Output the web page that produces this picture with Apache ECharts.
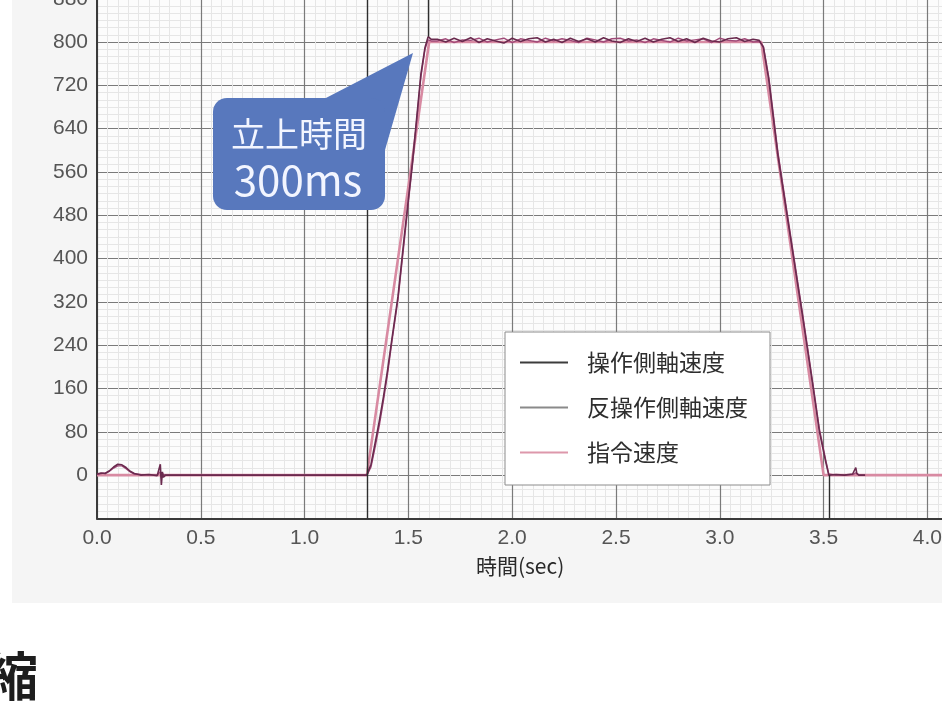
<!DOCTYPE html>
<html>
<head>
<meta charset="utf-8">
<script src="https://cdn.jsdelivr.net/npm/echarts@6/dist/echarts.min.js"></script>
<style>
  html, body { margin: 0; padding: 0; background: #ffffff; overflow: hidden; width: 942px; height: 702px; }
  #chart { position: absolute; left: 0; top: -60px; width: 1040px; height: 762px; }
</style>
</head>
<body>
<div id="chart"></div>
<script>
// Sample times (sec) of the measured drive-side trace
const timeDrive = [
  0, 0.02, 0.04, 0.06, 0.08, 0.1, 0.12, 0.14, 0.16, 0.18, 0.21, 0.25, 0.29, 0.305, 0.31, 0.315, 0.32, 0.33,
  0.4, 0.6, 0.8, 1.0, 1.2,
  1.3, 1.32, 1.34, 1.36, 1.38, 1.4, 1.42, 1.45, 1.48, 1.5, 1.52, 1.54, 1.56, 1.58, 1.595, 1.61,
  1.64, 1.68, 1.72, 1.76, 1.80, 1.84, 1.88, 1.92, 1.96, 2.00, 2.04, 2.08, 2.12, 2.16, 2.20, 2.24, 2.28, 2.32, 2.36, 2.40,
  2.44, 2.48, 2.52, 2.56, 2.60, 2.64, 2.68, 2.72, 2.76, 2.80, 2.84, 2.88, 2.92, 2.96, 3.00, 3.04, 3.08, 3.12, 3.16,
  3.19, 3.21, 3.236, 3.28, 3.34, 3.4, 3.45, 3.48, 3.51, 3.525,
  3.56, 3.6, 3.64, 3.655, 3.66, 3.67, 3.7
];
// 操作側軸速度
const speedDrive = [
  2, 4, 3, 8, 15, 20, 19, 14, 7, 3, 0, 1, -1, 20, -18, 6, -4, 0,
  0, 0, 0, 0, 0,
  0, 20, 60, 100, 145, 195, 250, 330, 440, 510, 580, 660, 740, 790, 810, 805,
  805, 800, 807, 801, 808, 799, 806, 802, 798, 807, 801, 806, 808, 800, 805, 799, 807, 801, 806, 800,
  808, 802, 799, 806, 801, 807, 800, 805, 808, 801, 806, 799, 807, 802, 800, 806, 808, 801, 805,
  803, 790, 730, 590, 440, 290, 160, 80, 25, 0,
  1, 0, 2, 14, 3, 0, 0
];
// 反操作側軸速度 (same sample times)
const speedOpposite = [
  1, 3, 4, 7, 13, 17, 17, 12, 6, 2, 1, 0, 0, 6, -6, 2, -1, 0,
  0, 0, 0, 0, 0,
  0, 15, 52, 92, 138, 188, 245, 325, 432, 505, 575, 655, 735, 787, 804, 802,
  802, 806, 799, 804, 803, 807, 800, 804, 807, 799, 806, 803, 800, 807, 802, 806, 803, 799, 807, 804,
  800, 806, 807, 802, 804, 799, 806, 803, 800, 807, 802, 804, 806, 799, 807, 803, 802, 806, 800,
  801, 792, 735, 596, 445, 295, 165, 85, 28, 2,
  0, 0, 1, 4, 1, 0, 0
];
// 指令速度 (trapezoidal command profile)
const timeCommand = [0, 1.3, 1.6, 3.2, 3.5, 4.5];
const speedCommand = [0, 0, 800, 800, 0, 0];

// Vertical cursor segments on the drive trace: [time, from, to]
const cursorLines = [[1.3, -80, 960], [1.595, 810, 960], [3.525, 0, -80]];

const seriesNames = ['操作側軸速度', '反操作側軸速度', '指令速度'];
const xName = '時間(sec)';
const calloutLines = ['立上時間', '300ms'];

const zip = (xs, ys) => xs.slice(0, Math.min(xs.length, ys.length)).map((x, i) => [x, ys[i]]);

const chart = echarts.init(document.getElementById('chart'), null, { renderer: 'canvas', width: 1040, height: 762 });

// The canvas is shifted up by this many pixels so the top rows of the axis run off the page
const OY = 60;

const cjk = '"Noto Sans CJK JP", "Noto Sans", sans-serif';
const latin = '"Liberation Sans", Arial, sans-serif';

const hiddenParts = {
  axisLine: { show: false },
  axisTick: { show: false },
  axisLabel: { show: false },
  splitLine: { show: false }
};

const calloutFill = '#5878bd';

const option = {
  backgroundColor: '#ffffff',
  animation: false,
  grid: {
    left: 97, top: 15.4, width: 934.2, height: 563,
    containLabel: false,
    outerBoundsMode: 'none',
    show: true, backgroundColor: '#fcfcfc', borderWidth: 0
  },
  legend: {
    orient: 'vertical',
    left: 505, top: 332 + OY,
    padding: [19, 22, 21, 15],
    itemGap: 22,
    itemWidth: 48, itemHeight: 2,
    icon: 'rect',
    backgroundColor: '#ffffff',
    borderColor: '#8c8c8c', borderWidth: 1,
    textStyle: { fontSize: 23, color: '#2e2e2e', fontFamily: cjk, padding: [0, 0, 0, 14] },
    data: seriesNames
  },
  xAxis: [
    {
      type: 'value', min: 0, max: 4.5, interval: 0.5,
      axisLine: { show: true, onZero: false, lineStyle: { color: '#3a3a3a', width: 2 } },
      axisTick: { show: false },
      axisLabel: {
        color: '#555', fontSize: 21, fontFamily: latin, margin: 9,
        formatter: v => v.toFixed(1)
      },
      splitLine: { show: true, lineStyle: { color: '#7a7a7a', width: 1.2 } },
      minorTick: { show: false, splitNumber: 5 },
      minorSplitLine: { show: true, lineStyle: { color: '#b2b2b2', width: 1 } },
      name: xName, nameLocation: 'middle', nameGap: 37,
      nameTextStyle: { fontSize: 21, color: '#2a2a2a', fontFamily: cjk, padding: [0, 88, 0, 0] }
    },
    Object.assign({
      type: 'value', min: 0, max: 4.5, interval: 0.5,
      minorTick: { show: false, splitNumber: 10 },
      minorSplitLine: { show: true, lineStyle: { color: '#e6e6e6', width: 1 } }
    }, hiddenParts)
  ],
  yAxis: [
    {
      type: 'value', min: -80, max: 960, interval: 80,
      axisLine: { show: true, onZero: false, lineStyle: { color: '#3a3a3a', width: 2 } },
      axisTick: { show: false },
      axisLabel: {
        color: '#555', fontSize: 21, fontFamily: latin, margin: 9,
        formatter: v => (v < 0 ? '' : String(v))
      },
      splitLine: { show: true, lineStyle: { color: '#7a7a7a', width: 1.2 } },
      minorTick: { show: false, splitNumber: 3 },
      minorSplitLine: { show: true, lineStyle: { color: '#b2b2b2', width: 1 } }
    },
    Object.assign({
      type: 'value', min: -80, max: 960, interval: 80,
      minorTick: { show: false, splitNumber: 6 },
      minorSplitLine: { show: true, lineStyle: { color: '#e6e6e6', width: 1 } }
    }, hiddenParts)
  ],
  series: [
    {
      name: seriesNames[2], type: 'line', showSymbol: false, z: 2,
      data: zip(timeCommand, speedCommand),
      itemStyle: { color: '#dd98ab' },
      lineStyle: { color: '#d88aa2', width: 2.6 }
    },
    {
      name: seriesNames[1], type: 'line', showSymbol: false, z: 3,
      data: zip(timeDrive, speedOpposite),
      itemStyle: { color: '#8a8a8a' },
      lineStyle: { color: '#a04a78', width: 1.4 }
    },
    {
      name: seriesNames[0], type: 'line', showSymbol: false, z: 4,
      data: zip(timeDrive, speedDrive),
      itemStyle: { color: '#3c3c3c' },
      lineStyle: { color: '#6a2a4e', width: 1.6 },
      markLine: {
        silent: true,
        symbol: ['none', 'none'],
        label: { show: false },
        lineStyle: { color: '#2e2e2e', width: 1.4, type: 'solid' },
        data: cursorLines.map(([t, a, b]) => [{ coord: [t, a] }, { coord: [t, b] }])
      }
    }
  ],
  graphic: [
    {
      type: 'rect', silent: true, z: -10,
      shape: { x: 12, y: 0, width: 1030, height: 603 + OY },
      style: { fill: '#f5f5f5' }
    },
    { type: 'polygon', silent: true, z: 100, shape: { points: [[322, 100 + OY], [385, 150 + OY], [413, 53 + OY]] }, style: { fill: calloutFill } },
    { type: 'rect', silent: true, z: 100, shape: { x: 213, y: 98 + OY, width: 172, height: 112, r: 14 }, style: { fill: calloutFill } },
    { type: 'text', silent: true, z: 101, style: { x: 299, y: 134 + OY, text: calloutLines[0], fill: '#f2f5ff', fontSize: 34, fontFamily: cjk, align: 'center', verticalAlign: 'middle' } },
    { type: 'text', silent: true, z: 101, style: { x: 298, y: 180 + OY, text: calloutLines[1], fill: '#f2f5ff', fontSize: 42, fontFamily: cjk, align: 'center', verticalAlign: 'middle' } },
    {
      type: 'text', silent: true, z: 101,
      style: { x: -14, y: 650 + OY, text: '縮', fill: '#1e1e1e', fontSize: 52, fontWeight: 'bold', fontFamily: cjk, verticalAlign: 'top' }
    }
  ]
};

chart.setOption(option);
</script>
</body>
</html>
